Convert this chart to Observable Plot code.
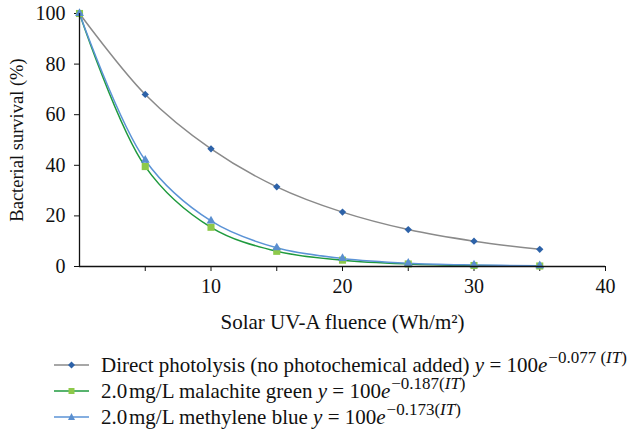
<!DOCTYPE html>
<html><head><meta charset="utf-8">
<script src="https://cdn.jsdelivr.net/npm/d3@7"></script>
<script src="https://cdn.jsdelivr.net/npm/@observablehq/plot@0.6"></script>
<style>
body{margin:0;background:#fff;font-family:"Liberation Serif",serif;position:relative;width:635px;height:431px;overflow:hidden;}
#legend{position:absolute;left:54px;top:352px;font-size:21px;color:#111;}
.row{display:flex;align-items:center;white-space:nowrap;height:26px;}
.row svg{margin-right:12px;flex:none;}
.sup{font-size:17px;position:relative;top:-9px;margin-left:1px;}
i{font-style:italic;}
</style></head>
<body><div id="chart"></div><div id="legend"></div>
<script>
const fluence = [0, 5, 10, 15, 20, 25, 30, 35];
const directPhotolysis = [100, 68, 46.5, 31.5, 21.5, 14.6, 10, 6.8];
const malachiteGreen = [100, 39.5, 15.5, 6, 2.5, 1.0, 0.4, 0.2];
const methyleneBlue = [100, 42, 18, 7.4, 3.2, 1.3, 0.6, 0.3];
const seriesNames = ["Direct photolysis (no photochemical added)", "2.0\u200Amg/L malachite green", "2.0\u200Amg/L methylene blue"];
const rates = ["0.077 ", "0.187", "0.173"];
const xTicks = [5, 10, 15, 20, 25, 30, 35, 40];
const yTicks = [0, 20, 40, 60, 80, 100];

const styles = [
  {line: "#8a8a8a", fill: "#2d62a8", symbol: "diamond2", r: 3.3},
  {line: "#1f9a3e", fill: "#8dc94a", symbol: "square", r: 4.0},
  {line: "#5b93d6", fill: "#5a8fd0", symbol: "triangle", r: 3.3}
];
const values = [directPhotolysis, malachiteGreen, methyleneBlue];
const data = values.map((vals, s) => fluence.map((x, i) => ({x, y: vals[i], s})));

const marks = [];
data.forEach((d, s) => {
  marks.push(Plot.line(d, {x: "x", y: "y", stroke: styles[s].line, strokeWidth: 1.5, curve: "catmull-rom"}));
});
data.forEach((d, s) => {
  marks.push(Plot.dot(d, {x: "x", y: "y", symbol: () => styles[s].symbol, fill: styles[s].fill, r: styles[s].r, stroke: "none"}));
});

const chart = Plot.plot({
  width: 635, height: 340,
  marginLeft: 79, marginRight: 30, marginTop: 13, marginBottom: 74,
  style: {fontFamily: '"Liberation Serif", serif', fontSize: "20px", color: "#111", background: "#fff", overflow: "visible"},
  symbol: {type: "identity"},
  x: {domain: [0, 40]},
  y: {domain: [0, 100]},
  marks: [
    Plot.axisX({ticks: xTicks, tickFormat: d => d % 10 === 0 ? d : "", tickSize: 5, tickPadding: 7, fontSize: 20,
      label: null}),
    Plot.axisY({ticks: yTicks, tickSize: 5, tickPadding: 9, fontSize: 20, label: null}),
    Plot.text(["Solar UV-A fluence (Wh/m²)"], {frameAnchor: "bottom", dy: 56, fontSize: 21, lineAnchor: "middle", fill: "#111"}),
    Plot.text(["Bacterial survival (%)"], {frameAnchor: "left", dx: -62, rotate: -90, fontSize: 18.5, textAnchor: "middle", lineAnchor: "middle", fill: "#111"}),
    ...marks,
    Plot.ruleX([0], {stroke: "#111", strokeWidth: 1.3}),
    Plot.ruleY([0], {stroke: "#111", strokeWidth: 1.3})
  ]
});
document.getElementById("chart").appendChild(chart);

const shapes = {
  diamond2: "M17.5,1.5L21,5L17.5,8.5L14,5Z",
  square: "M14.5,2H20.5V8H14.5Z",
  triangle: "M17.5,1L21,8H14Z"
};
const legend = document.getElementById("legend");
seriesNames.forEach((name, s) => {
  const st = styles[s];
  const row = document.createElement("div");
  row.className = "row";
  const ns = "http://www.w3.org/2000/svg";
  const svg = document.createElementNS(ns, "svg");
  svg.setAttribute("width", 35); svg.setAttribute("height", 10);
  svg.innerHTML = `<line x1="0" y1="5" x2="35" y2="5" stroke="${st.line}" stroke-width="1.6"/><path d="${shapes[st.symbol]}" fill="${st.fill}"/>`;
  row.appendChild(svg);
  const span = document.createElement("span");
  span.innerHTML = `${name} <i>y</i> = 100<i>e</i><span class="sup">−${rates[s]}(<i>IT</i>)</span>`;
  row.appendChild(span);
  legend.appendChild(row);
});
</script></body></html>
